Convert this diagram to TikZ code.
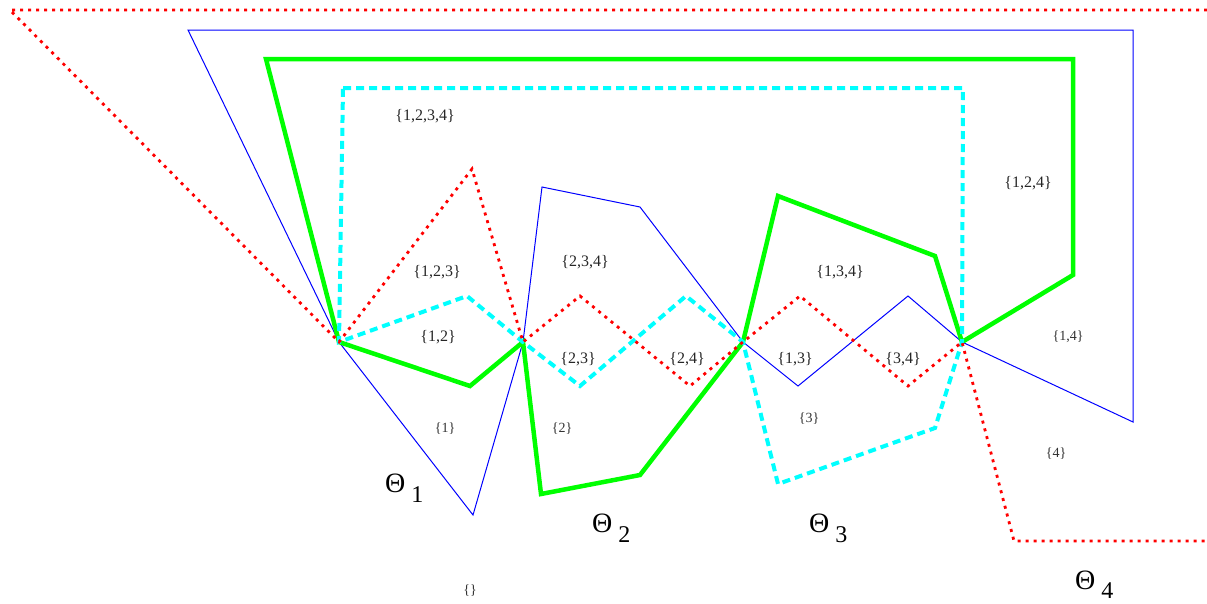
\documentclass[tikz,border=0pt]{standalone}
\usepackage{fontspec}
\setmainfont{Liberation Serif}
\begin{document}
\begin{tikzpicture}[x=1pt,y=-1pt,
  blueline/.style={draw={rgb,255:red,0;green,0;blue,255}, line width=1pt, line join=miter},
  greenline/.style={draw={rgb,255:red,0;green,255;blue,0}, line width=4.5pt, line join=miter},
  cyanline/.style={draw={rgb,255:red,0;green,255;blue,255}, line width=4pt, dash pattern=on 8pt off 5pt},
  redline/.style={draw={rgb,255:red,255;green,0;blue,0}, line width=2.8pt, dash pattern=on 3pt off 5pt},
  biglab/.style={inner sep=0pt, font=\fontsize{16}{16}\selectfont, text=black!85},
  smalllab/.style={inner sep=0pt, font=\fontsize{14}{14}\selectfont, text=black!80},
  thetalab/.style={inner sep=0pt, anchor=base west, font=\fontsize{28}{28}\selectfont}
]
\useasboundingbox (0,0) rectangle (1207,603);
% junction points
\coordinate (P1) at (339,342);
\coordinate (P2) at (523,342);
\coordinate (P3) at (743,342);
\coordinate (P4) at (962,342);
% blue polygon
\draw[blueline] (188,30) -- (1133,30) -- (1133,422) -- (P4) -- (908,296) -- (798,386) -- (P3)
  -- (640,207) -- (542,187) -- (P2) -- (473,515) -- (P1) -- cycle;
% green polygon
\draw[greenline] (266,59) -- (1073,59) -- (1073,275) -- (P4) -- (935,256) -- (778,196) -- (P3)
  -- (640,475) -- (541,494) -- (P2) -- (470,386) -- (P1) -- cycle;
% cyan polygon
\draw[cyanline] (343,88) -- (963,88) -- (P4) -- (935,428) -- (778,484) -- (P3)
  -- (686,296) -- (580,386) -- (P2) -- (467,296) -- (P1) -- cycle;
% red path
\draw[redline] (1207,10) -- (10,10) -- (P1) -- (472,169) -- (P2) -- (580,296) -- (690,386)
  -- (P3) -- (800,296) -- (908,386) -- (P4) -- (1014,541) -- (1207,541);
% labels
\node[biglab] (s1234) at (425,116) {\{1,2,3,4\}};
\node[biglab] (s123) at (437,272) {\{1,2,3\}};
\node[biglab] (s12) at (438,337) {\{1,2\}};
\node[biglab] (s234) at (585,262) {\{2,3,4\}};
\node[biglab] (s23) at (578,359) {\{2,3\}};
\node[biglab] (s24) at (687,359) {\{2,4\}};
\node[biglab] (s134) at (840,272) {\{1,3,4\}};
\node[biglab] (s13) at (795,359) {\{1,3\}};
\node[biglab] (s34) at (903,359) {\{3,4\}};
\node[biglab] (s124) at (1028,183) {\{1,2,4\}};
\node[smalllab] (s14) at (1068,337) {\{1,4\}};
\node[smalllab] (s1) at (445,429) {\{1\}};
\node[smalllab] (s2) at (562,429) {\{2\}};
\node[smalllab] (s3) at (809,419) {\{3\}};
\node[smalllab] (s4) at (1056,454) {\{4\}};
\node[smalllab] (s0) at (470,591) {\{\}};
% Theta labels
\node[thetalab] (t1) at (385,492) {Θ\hspace{6pt}\raisebox{-10pt}{\fontsize{24}{24}\selectfont 1}};
\node[thetalab] (t2) at (592,532) {Θ\hspace{6pt}\raisebox{-10pt}{\fontsize{24}{24}\selectfont 2}};
\node[thetalab] (t3) at (809,532) {Θ\hspace{6pt}\raisebox{-10pt}{\fontsize{24}{24}\selectfont 3}};
\node[thetalab] (t4) at (1075,589) {Θ\hspace{6pt}\raisebox{-9pt}{\fontsize{24}{24}\selectfont 4}};
\end{tikzpicture}
\end{document}
